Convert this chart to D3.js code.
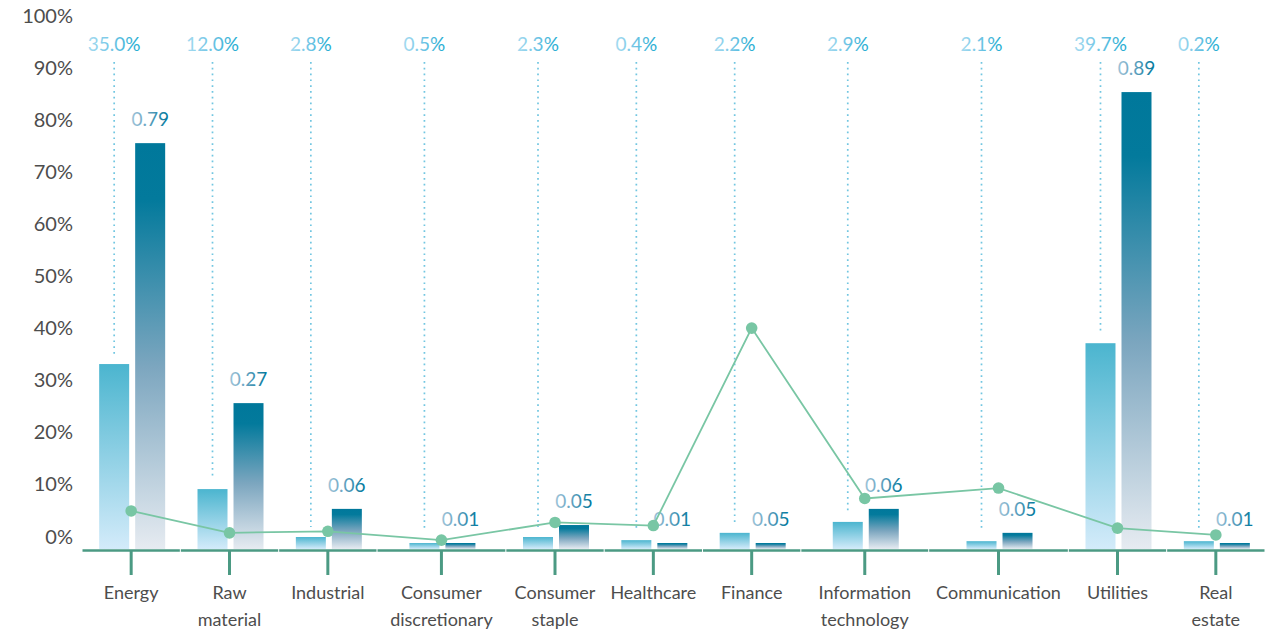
<!DOCTYPE html>
<html>
<head>
<meta charset="utf-8">
<script src="https://cdn.jsdelivr.net/npm/d3@7"></script>
<style>
  html, body { margin: 0; padding: 0; background: #ffffff; }
  svg { display: block; font-family: Lato, "Open Sans", sans-serif; }
</style>
</head>
<body>
<svg id="chart" width="1282" height="632"></svg>
<script>
// ---------------- DATA ----------------
const categories = ["Energy", "Raw\nmaterial", "Industrial", "Consumer\ndiscretionary", "Consumer\nstaple",
  "Healthcare", "Finance", "Information\ntechnology", "Communication", "Utilities", "Real\nestate"];
// light (share) bars
const shareValues = [0.355, 0.115, 0.023, 0.0115, 0.023, 0.017, 0.031, 0.052, 0.015, 0.395, 0.015];
const shareLabels = ["35.0%", "12.0%", "2.8%", "0.5%", "2.3%", "0.4%", "2.2%", "2.9%", "2.1%", "39.7%", "0.2%"];
// dark (ratio) bars
const ratioValues = [0.779, 0.28, 0.077, 0.0115, 0.046, 0.0115, 0.0115, 0.077, 0.031, 0.877, 0.0115];
const ratioLabels = ["0.79", "0.27", "0.06", "0.01", "0.05", "0.01", "0.05", "0.06", "0.05", "0.89", "0.01"];
// green line
const lineValues = [0.073, 0.031, 0.034, 0.017, 0.051, 0.045, 0.424, 0.097, 0.117, 0.040, 0.027];
const yTicks = [0, 0.1, 0.2, 0.3, 0.4, 0.5, 0.6, 0.7, 0.8, 0.9, 1.0];

// ---------------- LAYOUT ----------------
const svg = d3.select("#chart");
const axisY = 549;
const left = 82, right = 1265;
const bandWeights = [1, 1, 1, 1.31, 1, 1, 1, 1.3, 1.42, 1, 1];
const cum = [0];
bandWeights.forEach(w => cum.push(cum[cum.length - 1] + w));
const unit = d3.scaleLinear().domain([0, cum[cum.length - 1]]).range([left, right]);
const bandStart = d3.scaleOrdinal().domain(categories).range(cum.slice(0, -1).map(unit));
const bandEnd = d3.scaleOrdinal().domain(categories).range(cum.slice(1).map(unit));
const xCenter = c => (bandStart(c) + bandEnd(c)) / 2;
const inner = d3.scaleBand().domain(["share", "ratio"]).range([-32, 34]).paddingInner(0.1667);

const y = d3.scaleLinear().domain([0, 1]).range([axisY, 28]);

// ---------------- DEFS ----------------
const defs = svg.append("defs");
const g1 = defs.append("linearGradient").attr("id", "shareGrad").attr("x1", 0).attr("y1", 0).attr("x2", 0).attr("y2", 1);
g1.append("stop").attr("offset", "0%").attr("stop-color", "#4bb5cf");
g1.append("stop").attr("offset", "100%").attr("stop-color", "#d3ebfa");
const g2 = defs.append("linearGradient").attr("id", "ratioGrad").attr("x1", 0).attr("y1", 0).attr("x2", 0).attr("y2", 1);
g2.append("stop").attr("offset", "0%").attr("stop-color", "#00789b");
g2.append("stop").attr("offset", "14%").attr("stop-color", "#037a9c");
g2.append("stop").attr("offset", "55%").attr("stop-color", "#7ca6bf");
g2.append("stop").attr("offset", "100%").attr("stop-color", "#e6ebf1");
const t1 = defs.append("linearGradient").attr("id", "shareText").attr("x1", 0).attr("y1", 0).attr("x2", 1).attr("y2", 0);
t1.append("stop").attr("offset", "0%").attr("stop-color", "#a6dbf0");
t1.append("stop").attr("offset", "45%").attr("stop-color", "#74c6e6");
t1.append("stop").attr("offset", "100%").attr("stop-color", "#1fa9cf");
const t2 = defs.append("linearGradient").attr("id", "ratioText").attr("x1", 0).attr("y1", 0).attr("x2", 1).attr("y2", 0);
t2.append("stop").attr("offset", "0%").attr("stop-color", "#9fc4d8");
t2.append("stop").attr("offset", "40%").attr("stop-color", "#6aa5c2");
t2.append("stop").attr("offset", "100%").attr("stop-color", "#00769a");

// ---------------- Y AXIS LABELS ----------------
svg.append("g").selectAll("text").data(yTicks).join("text")
  .attr("x", 73).attr("y", d => y(d) - 5.5)
  .attr("text-anchor", "end")
  .attr("font-size", 20).attr("fill", "#4d4d4d")
  .text(d => d3.format(".0%")(d));

// ---------------- DOTTED GUIDES ----------------
const data = categories.map((c, i) => ({
  c, share: shareValues[i], shareLabel: shareLabels[i],
  ratio: ratioValues[i], ratioLabel: ratioLabels[i], line: lineValues[i]
}));

svg.append("g").selectAll("line").data(data).join("line")
  .attr("x1", d => xCenter(d.c) + inner("share") + inner.bandwidth() / 2)
  .attr("x2", d => xCenter(d.c) + inner("share") + inner.bandwidth() / 2)
  .attr("y1", 62)
  .attr("y2", d => Math.min(y(d.share) - 10, 530))
  .attr("stroke", "#62c0de").attr("stroke-width", 1.7)
  .attr("stroke-dasharray", "1.7,4.1").attr("opacity", 0.9);

// ---------------- BARS ----------------
svg.append("g").selectAll("rect").data(data).join("rect")
  .attr("x", d => xCenter(d.c) + inner("share"))
  .attr("width", inner.bandwidth())
  .attr("y", d => y(d.share))
  .attr("height", d => axisY - y(d.share))
  .attr("fill", "url(#shareGrad)");

svg.append("g").selectAll("rect").data(data).join("rect")
  .attr("x", d => xCenter(d.c) + inner("ratio"))
  .attr("width", inner.bandwidth())
  .attr("y", d => y(d.ratio))
  .attr("height", d => axisY - y(d.ratio))
  .attr("fill", "url(#ratioGrad)");

// ---------------- LABELS ----------------
svg.append("g").selectAll("text").data(data).join("text")
  .attr("x", d => xCenter(d.c) + inner("share") + inner.bandwidth() / 2)
  .attr("y", 51)
  .attr("text-anchor", "middle")
  .attr("font-size", 19).attr("font-weight", 400)
  .attr("fill", "url(#shareText)")
  .text(d => d.shareLabel);

svg.append("g").selectAll("text").data(data).join("text")
  .attr("x", d => xCenter(d.c) + inner("ratio") + inner.bandwidth() / 2)
  .attr("y", d => y(d.ratio) - 17)
  .attr("text-anchor", "middle")
  .attr("font-size", 19).attr("font-weight", 400)
  .attr("fill", "url(#ratioText)")
  .text(d => d.ratioLabel);

// ---------------- AXIS ----------------
const axisG = svg.append("g");
axisG.selectAll("line.seg").data(categories).join("line").attr("class", "seg")
  .attr("x1", c => bandStart(c) + 0.5).attr("x2", c => bandEnd(c) - 0.5)
  .attr("y1", axisY + 1.5).attr("y2", axisY + 1.5)
  .attr("stroke", "#4b9a83").attr("stroke-width", 2.6);
axisG.selectAll("line.tick").data(categories).join("line").attr("class", "tick")
  .attr("x1", c => xCenter(c)).attr("x2", c => xCenter(c))
  .attr("y1", axisY + 1).attr("y2", 575)
  .attr("stroke", "#4b9a83").attr("stroke-width", 3);

const xl = axisG.selectAll("text").data(categories).join("text")
  .attr("text-anchor", "middle")
  .attr("font-size", 18).attr("fill", "#4d4d4d");
xl.each(function(c) {
  const lines = c.split("\n");
  d3.select(this).selectAll("tspan").data(lines).join("tspan")
    .attr("x", xCenter(c))
    .attr("y", (l, i) => 599 + i * 26.5)
    .text(l => l);
});

// ---------------- LINE ----------------
const lineGen = d3.line().x(d => xCenter(d.c)).y(d => y(d.line));
svg.append("path").datum(data)
  .attr("d", lineGen)
  .attr("fill", "none").attr("stroke", "#79c6a4").attr("stroke-width", 1.8);
svg.append("g").selectAll("circle").data(data).join("circle")
  .attr("cx", d => xCenter(d.c)).attr("cy", d => y(d.line))
  .attr("r", 5.8).attr("fill", "#78c6a4");
</script>
</body>
</html>
